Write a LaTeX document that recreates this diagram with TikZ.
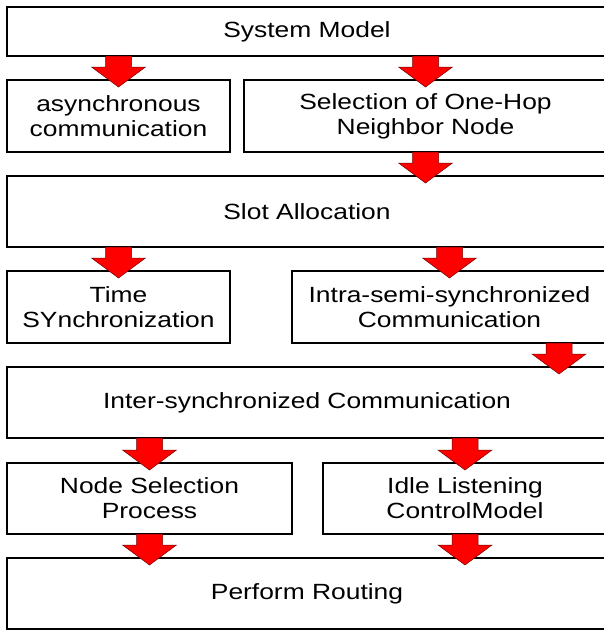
\documentclass[tikz,border=0pt]{standalone}
\usepackage{fontspec}
\setmainfont[FakeStretch=1.2]{Liberation Sans}
\usetikzlibrary{calc}
\tikzset{
  box/.style={draw=black, line width=1.5pt, fill=white, anchor=north west,
    outer sep=0pt, inner sep=0pt, align=center,
    font=\fontsize{22}{25}\selectfont},
  blockarrow/.style={fill=red, draw=red!45!black, line width=0.5pt, line join=miter},
}
% #1 = start point (bottom of source), #2 = tip point
\newcommand\blockarr[2]{%
  \filldraw[blockarrow] let \p1=(#1), \p2=(#2) in
    (\x1-13pt,\y1) -- (\x1-13pt,\y2+20pt) -- (\x1-27pt,\y2+20pt) -- (\x1,\y2)
    -- (\x1+27pt,\y2+20pt) -- (\x1+13pt,\y2+20pt) -- (\x1+13pt,\y1) -- cycle;}
\begin{document}
\begin{tikzpicture}[x=1pt,y=-1pt]
\useasboundingbox (0,0) rectangle (604,630);
\clip (0,0) rectangle (604,630);
% boxes
\node[box, minimum width=600pt, minimum height=49pt] (sm) at (7,7) {System Model};
\node[box, minimum width=223pt, minimum height=72pt] (asyn) at (7,80) {asynchronous\\communication};
\node[box, minimum width=363pt, minimum height=72pt] (sel) at (244,80) {Selection of One-Hop\\Neighbor Node};
\node[box, minimum width=600pt, minimum height=71pt] (slot) at (7,176) {Slot Allocation};
\node[box, minimum width=223pt, minimum height=72pt] (time) at (7,271) {Time\\SYnchronization};
\node[box, minimum width=315pt, minimum height=72pt] (intra) at (292,271) {Intra-semi-synchronized\\Communication};
\node[box, minimum width=600pt, minimum height=71pt] (inter) at (7,367) {Inter-synchronized Communication};
\node[box, minimum width=285pt, minimum height=71pt] (nsel) at (7,463) {Node Selection\\Process};
\node[box, minimum width=284pt, minimum height=71pt] (idle) at (323,463) {Idle Listening\\ControlModel};
\node[box, minimum width=600pt, minimum height=71pt] (perf) at (7,558) {Perform Routing};
% arrows
\coordinate (a1s) at (sm.south -| asyn.north);
\coordinate (a1t) at ($(asyn.north)+(0,7)$);
\blockarr{a1s}{a1t}
\coordinate (a2s) at (sm.south -| sel.north);
\coordinate (a2t) at ($(sel.north)+(0,7)$);
\blockarr{a2s}{a2t}
\coordinate (a3s) at (sel.south);
\coordinate (a3t) at ($(slot.north -| sel.south)+(0,7)$);
\blockarr{a3s}{a3t}
\coordinate (a4s) at (slot.south -| time.north);
\coordinate (a4t) at ($(time.north)+(0,7)$);
\blockarr{a4s}{a4t}
\coordinate (a5s) at (slot.south -| intra.north);
\coordinate (a5t) at ($(intra.north)+(0,7)$);
\blockarr{a5s}{a5t}
\coordinate (a6s) at ($(intra.south east)+(-48,0)$);
\coordinate (a6t) at ($(inter.north -| a6s)+(0,7)$);
\blockarr{a6s}{a6t}
\coordinate (a7s) at (inter.south -| nsel.north);
\coordinate (a7t) at ($(nsel.north)+(0,7)$);
\blockarr{a7s}{a7t}
\coordinate (a8s) at (inter.south -| idle.north);
\coordinate (a8t) at ($(idle.north)+(0,7)$);
\blockarr{a8s}{a8t}
\coordinate (a9s) at (nsel.south);
\coordinate (a9t) at ($(perf.north -| nsel.south)+(0,7)$);
\blockarr{a9s}{a9t}
\coordinate (a10s) at (idle.south);
\coordinate (a10t) at ($(perf.north -| idle.south)+(0,7)$);
\blockarr{a10s}{a10t}
\end{tikzpicture}
\end{document}
